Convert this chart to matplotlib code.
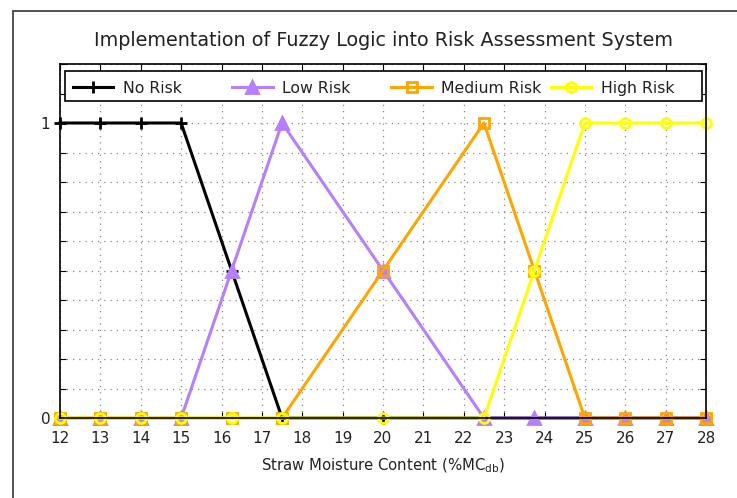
import matplotlib
matplotlib.use("Agg")
import matplotlib.pyplot as plt
import matplotlib.patches as mpatches
import numpy as np

# membership values at the sampled moisture contents
moisture = [12, 13, 14, 15, 16.25, 17.5, 20, 22.5, 23.75, 25, 26, 27, 28]
no_risk = [1, 1, 1, 1, 0.5, 0, 0, 0, 0, 0, 0, 0, 0]
low_risk = [0, 0, 0, 0, 0.5, 1, 0.5, 0, 0, 0, 0, 0, 0]
medium_risk = [0, 0, 0, 0, 0, 0, 0.5, 1, 0.5, 0, 0, 0, 0]
high_risk = [0, 0, 0, 0, 0, 0, 0, 0, 0.5, 1, 1, 1, 1]

labels = ["No Risk", "Low Risk", "Medium Risk", "High Risk"]
x_ticks = list(range(12, 29))
y_labels = {0: "0", 10: "1"}

W, H = 737, 498
ax_l, ax_r, ax_t, ax_b = 60, 706, 64, 418
fig = plt.figure(figsize=(W / 100, H / 100), dpi=100)
ax = fig.add_axes([ax_l / W, 1 - ax_b / H, (ax_r - ax_l) / W, (ax_b - ax_t) / H])

# outer frame like the original export
fig.add_artist(mpatches.Rectangle((13 / W, -0.05), 1.0, 1 - 11 / H + 0.05,
                                  transform=fig.transFigure, fill=False,
                                  edgecolor="#333333", linewidth=1.2))

styles = [
    dict(color="black", marker="+", markersize=9),
    dict(color="#b580ff", marker="^", markersize=8),
    dict(color="#ffa500", marker="s", markersize=7, markerfacecolor="none"),
    dict(color="#ffff00", marker="o", markersize=7, markerfacecolor="none"),
]
common = dict(linewidth=2.2, markeredgewidth=2)
for ys, st in zip([no_risk, low_risk, medium_risk, high_risk], styles):
    ax.plot(moisture, ys, clip_on=False, **st, **common)

ax.set_xlim(12, 28)
ax.set_ylim(0, 1.2)
ax.set_xticks(x_ticks)
ax.set_xticklabels([str(t) for t in x_ticks], fontsize=11, color="#222222")
yt = np.arange(13) / 10
ax.set_yticks(yt)
ax.set_yticklabels([y_labels.get(i, "") for i in range(13)], fontsize=11,
                   color="#222222")
ax.tick_params(direction="in", top=True, right=True, length=4, width=0.8)
ax.tick_params(axis="x", pad=9)
ax.tick_params(axis="y", pad=7)
ax.grid(True, color="#888888", linestyle=(0, (1, 4)), linewidth=0.9)
for s in ax.spines.values():
    s.set_linewidth(1.2)

ax.set_title("Implementation of Fuzzy Logic into Risk Assessment System",
             fontsize=13.8, pad=13, color="#222222")
ax.set_xlabel(r"Straw Moisture Content (%MC$_{\mathrm{db}}$)", fontsize=10.7,
              labelpad=8, color="#222222")

# key box with fixed-width columns, gnuplot style
def fx(px):
    return (px - ax_l) / (ax_r - ax_l)

def fy(py):
    return (ax_b - py) / (ax_b - ax_t)

ax.add_patch(mpatches.Rectangle((fx(65), fy(101.2)), fx(701.7) - fx(65),
                                fy(70.7) - fy(101.2), transform=ax.transAxes,
                                facecolor="white", edgecolor="black",
                                linewidth=1.2, zorder=5, clip_on=False))
key_y = fy(86.6)
for i, (lab, st) in enumerate(zip(labels, styles)):
    x0 = 72.7 + 159.3 * i
    ax.plot([fx(x0), fx(x0 + 40.6)], [key_y, key_y], transform=ax.transAxes,
            clip_on=False, zorder=6, linewidth=2.2, color=st["color"])
    ax.plot([fx(x0 + 20.3)], [key_y], transform=ax.transAxes, clip_on=False,
            zorder=6, linestyle="none", markeredgewidth=2, **st)
    ax.text(fx(x0 + 50), key_y, lab, transform=ax.transAxes, fontsize=11.3,
            va="center_baseline", ha="left", color="#222222", zorder=7)

fig.savefig("out.png", dpi=100)
